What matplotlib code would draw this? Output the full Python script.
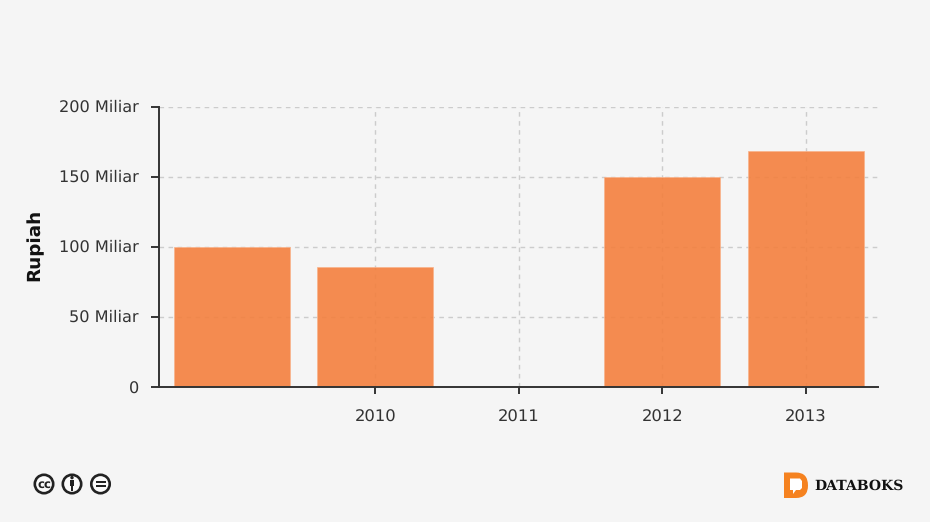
import matplotlib
matplotlib.use("Agg")
import matplotlib.pyplot as plt
from matplotlib.patches import Circle, PathPatch, Rectangle, Polygon
from matplotlib.path import Path
from matplotlib.transforms import ScaledTranslation

categories = ["", "2010", "2011", "2012", "2013"]
values = [100, 86, 0, 150, 168.5]
y_ticks = [0, 50, 100, 150, 200]
y_labels = ["0", "50 Miliar", "100 Miliar", "150 Miliar", "200 Miliar"]

BG = "#f5f5f5"
W, H = 930, 522
plt.rcParams['font.family'] = ['DejaVu Sans']
plt.rcParams['text.hinting'] = 'none'
fig = plt.figure(figsize=(W / 100, H / 100), dpi=100, facecolor=BG)

L, R, T, B = 159, 877.5, 107, 387
ax = fig.add_axes([L / W, 1 - B / H, (R - L) / W, (B - T) / H], facecolor=BG)
pos = list(range(len(categories)))
ax.set_xlim(-0.5075, 4.4995)
ax.set_ylim(0, 200)
ax.set_axisbelow(True)
ax.bar(pos, values, width=0.808, color="#f4803e", alpha=0.9, edgecolor="#f9b48c",
       linewidth=0.6, zorder=2)
for s in ("top", "right"):
    ax.spines[s].set_visible(False)
for s in ("left", "bottom"):
    ax.spines[s].set_color("#333333")
    ax.spines[s].set_linewidth(1.4)
ax.spines["bottom"].set_zorder(5)

ax.set_yticks(y_ticks, y_labels)
ax.set_xticks(pos[1:], categories[1:])
ax.tick_params(axis="y", length=5.8, width=1.4, color="#333333", labelcolor="#333333",
               labelsize=11.6, pad=8.6)
ax.tick_params(axis="x", length=5, width=1.4, color="#333333", labelcolor="#333333",
               labelsize=11.8, pad=11.2)
up = ScaledTranslation(0, 1 / 100, fig.dpi_scale_trans)
down = ScaledTranslation(0, -1 / 100, fig.dpi_scale_trans)
for lab in ax.get_yticklabels():
    shift = down if lab.get_text() == "0" else up
    lab.set_transform(lab.get_transform() + shift)
grid_style = dict(color="#cccccc", linewidth=1.0, dashes=(3.3, 3.2))
ax.yaxis.grid(True, zorder=1, **grid_style)
ax.xaxis.grid(True, zorder=1, **grid_style)
ax.set_ylabel("Rupiah", fontsize=13.2, fontweight="bold", color="#111111")
ax.yaxis.set_label_coords((43 - L) / (R - L), (B - 245) / (B - T))

# Footer marks, laid out in pixel coordinates
ov = fig.add_axes([0, 0, 1, 1], facecolor="none")
ov.set_xlim(0, W)
ov.set_ylim(H, 0)
ov.axis("off")
dark = "#222222"
for cx in (44, 72, 100.5):
    ov.add_patch(Circle((cx, 484), 9.2, facecolor="#fbfbfb", edgecolor=dark, linewidth=1.9))
ov.text(44, 484.2, "cc", ha="center", va="center", fontsize=8.5, fontweight="bold", color=dark)
ov.add_patch(Circle((72, 477.6), 1.7, color=dark, linewidth=0))
ov.add_patch(Rectangle((69.6, 480.4), 4.8, 5.6, color=dark, linewidth=0))
ov.add_patch(Rectangle((70.6, 485.5), 2.8, 5, color=dark, linewidth=0))
ov.add_patch(Rectangle((95.5, 480.8), 10, 2, color=dark, linewidth=0))
ov.add_patch(Rectangle((95.5, 485), 10, 2, color=dark, linewidth=0))

# Databoks logo
verts = [(784, 472.5), (796, 472.5), (808, 472.5), (808, 485.5), (808, 498), (796, 498),
         (784, 498), (784, 472.5)]
codes = [Path.MOVETO, Path.LINETO, Path.CURVE3, Path.CURVE3, Path.CURVE3, Path.CURVE3,
         Path.LINETO, Path.CLOSEPOLY]
ov.add_patch(PathPatch(Path(verts, codes), facecolor="#f58220", edgecolor="none"))
ov.add_patch(Polygon([(790, 478.5), (800, 478.5), (802, 481), (802, 488), (800, 490),
                      (796, 490), (793, 494), (793, 490), (790, 490)], closed=True,
                     facecolor="white", edgecolor="none"))
ov.text(814.5, 486, "DATABOKS", ha="left", va="center", fontsize=10.1, fontweight="bold",
        family="DejaVu Serif", color="#111111")

fig.savefig("out.png", dpi=100, facecolor=BG)
